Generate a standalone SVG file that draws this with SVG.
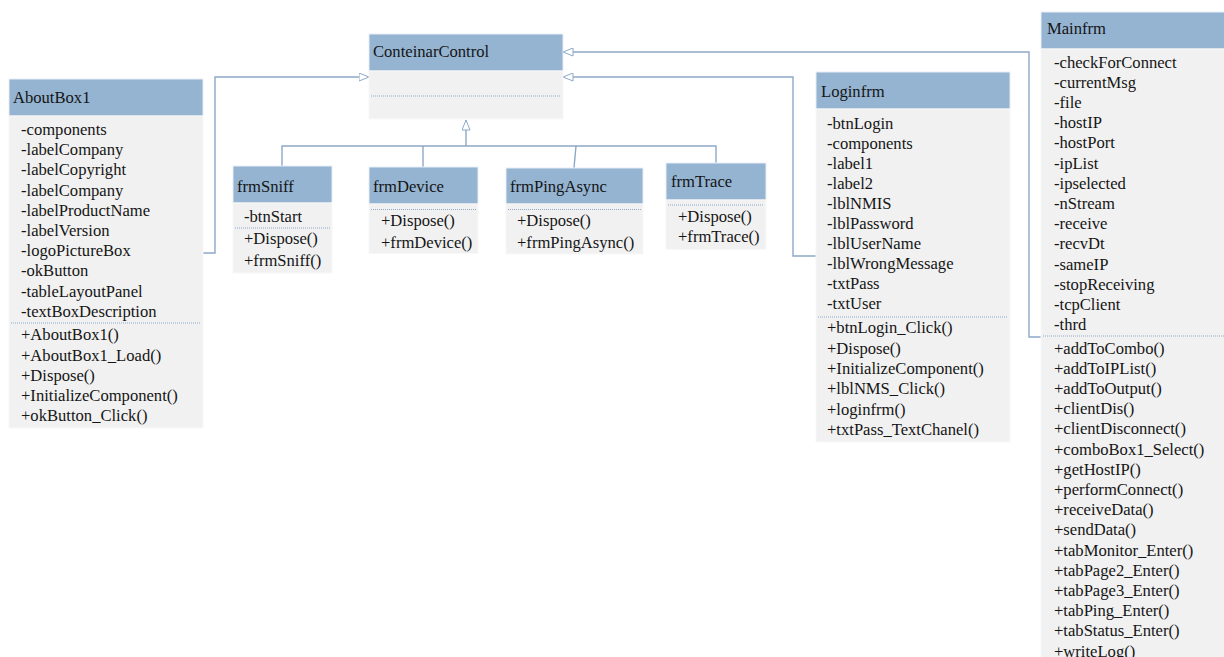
<svg xmlns="http://www.w3.org/2000/svg" width="1224" height="657" viewBox="0 0 1224 657">
<style>
.hd{fill:#94B4D2;stroke:#E8EEF5;stroke-width:1}
.bd{fill:#F1F1F1;stroke:#F8F8F8;stroke-width:1}
.t{font-family:"Liberation Serif","Times New Roman",serif;font-size:16.6px;fill:#151515}
.sep{stroke:#8FA9C8;stroke-width:1;stroke-dasharray:1 1}
.c{fill:none;stroke:#8DA8C7;stroke-width:1.4}
</style>
<defs>
<marker id="tri" viewBox="0 0 11 9" refX="10.5" refY="4.5" markerWidth="11" markerHeight="9" orient="auto" markerUnits="userSpaceOnUse">
<path d="M0.5,0.5 L10.5,4.5 L0.5,8.5 Z" fill="#FFFFFF" stroke="#8DA8C7" stroke-width="1"/>
</marker>
</defs>
<rect width="1224" height="657" fill="#FFFFFF"/>
<g id="connectors">
<path class="c" d="M203,253 H215 V77 H369" marker-end="url(#tri)"/>
<path class="c" d="M816,256 H793 V77 H563" marker-end="url(#tri)"/>
<path class="c" d="M1041,337 H1029 V52 H563" marker-end="url(#tri)"/>
<path class="c" d="M282,166 V146 H716 V163"/>
<path class="c" d="M423,167 V146"/>
<path class="c" d="M574,168 L576,146"/>
<path class="c" d="M466,146 V120" marker-end="url(#tri)"/>
</g>
<g id="ConteinarControl">
<rect class="hd" x="369" y="34" width="194" height="37"/>
<rect class="bd" x="369" y="71" width="194" height="48"/>
<text class="t" x="373" y="57">ConteinarControl</text>
<line class="sep" x1="371" y1="96" x2="561" y2="96"/>
</g>
<g id="AboutBox1">
<rect class="hd" x="9" y="79" width="194" height="37"/>
<rect class="bd" x="9" y="116" width="194" height="312"/>
<text class="t" x="13" y="103">AboutBox1</text>
<text class="t" x="21" y="135">-components</text>
<text class="t" x="21" y="155.2">-labelCompany</text>
<text class="t" x="21" y="175.4">-labelCopyright</text>
<text class="t" x="21" y="195.6">-labelCompany</text>
<text class="t" x="21" y="215.8">-labelProductName</text>
<text class="t" x="21" y="236">-labelVersion</text>
<text class="t" x="21" y="256.2">-logoPictureBox</text>
<text class="t" x="21" y="276.4">-okButton</text>
<text class="t" x="21" y="296.6">-tableLayoutPanel</text>
<text class="t" x="21" y="316.8">-textBoxDescription</text>
<line class="sep" x1="11" y1="323" x2="201" y2="323"/>
<text class="t" x="21" y="340.4">+AboutBox1()</text>
<text class="t" x="21" y="360.6">+AboutBox1_Load()</text>
<text class="t" x="21" y="380.8">+Dispose()</text>
<text class="t" x="21" y="401">+InitializeComponent()</text>
<text class="t" x="21" y="421.2">+okButton_Click()</text>
</g>
<g id="frmSniff">
<rect class="hd" x="233" y="166" width="99" height="37"/>
<rect class="bd" x="233" y="203" width="99" height="70"/>
<text class="t" x="237" y="191.7">frmSniff</text>
<text class="t" x="244" y="221.5">-btnStart</text>
<line class="sep" x1="235" y1="228" x2="330" y2="228"/>
<text class="t" x="244" y="244">+Dispose()</text>
<text class="t" x="244" y="265.5">+frmSniff()</text>
</g>
<g id="frmDevice">
<rect class="hd" x="369" y="167" width="109" height="37"/>
<rect class="bd" x="369" y="204" width="109" height="49.5"/>
<text class="t" x="373" y="192">frmDevice</text>
<line class="sep" x1="371" y1="209.5" x2="476" y2="209.5"/>
<text class="t" x="381" y="226">+Dispose()</text>
<text class="t" x="381" y="247.5">+frmDevice()</text>
</g>
<g id="frmPingAsync">
<rect class="hd" x="506" y="168" width="137" height="36"/>
<rect class="bd" x="506" y="204" width="137" height="50"/>
<text class="t" x="510" y="192">frmPingAsync</text>
<line class="sep" x1="508" y1="209.5" x2="641" y2="209.5"/>
<text class="t" x="517" y="226">+Dispose()</text>
<text class="t" x="517" y="247.5">+frmPingAsync()</text>
</g>
<g id="frmTrace">
<rect class="hd" x="666" y="163" width="100" height="37"/>
<rect class="bd" x="666" y="200" width="100" height="49.5"/>
<text class="t" x="671" y="187">frmTrace</text>
<line class="sep" x1="668" y1="205" x2="764" y2="205"/>
<text class="t" x="678" y="221.5">+Dispose()</text>
<text class="t" x="678" y="241.8">+frmTrace()</text>
</g>
<g id="Loginfrm">
<rect class="hd" x="816" y="72" width="194" height="37"/>
<rect class="bd" x="816" y="109" width="194" height="333"/>
<text class="t" x="821" y="97">Loginfrm</text>
<text class="t" x="827" y="128.5">-btnLogin</text>
<text class="t" x="827" y="148.6">-components</text>
<text class="t" x="827" y="168.7">-label1</text>
<text class="t" x="827" y="188.8">-label2</text>
<text class="t" x="827" y="208.9">-lblNMIS</text>
<text class="t" x="827" y="229">-lblPassword</text>
<text class="t" x="827" y="249.1">-lblUserName</text>
<text class="t" x="827" y="269.2">-lblWrongMessage</text>
<text class="t" x="827" y="289.3">-txtPass</text>
<text class="t" x="827" y="309.4">-txtUser</text>
<line class="sep" x1="818" y1="317" x2="1008" y2="317"/>
<text class="t" x="827" y="333.3">+btnLogin_Click()</text>
<text class="t" x="827" y="353.6">+Dispose()</text>
<text class="t" x="827" y="373.9">+InitializeComponent()</text>
<text class="t" x="827" y="394.2">+lblNMS_Click()</text>
<text class="t" x="827" y="414.5">+loginfrm()</text>
<text class="t" x="827" y="434.8">+txtPass_TextChanel()</text>
</g>
<g id="Mainfrm">
<rect class="hd" x="1041" y="12" width="184" height="37"/>
<rect class="bd" x="1041" y="49" width="184" height="610"/>
<text class="t" x="1047" y="33.5">Mainfrm</text>
<text class="t" x="1054" y="67.5">-checkForConnect</text>
<text class="t" x="1054" y="87.7">-currentMsg</text>
<text class="t" x="1054" y="107.9">-file</text>
<text class="t" x="1054" y="128.1">-hostIP</text>
<text class="t" x="1054" y="148.3">-hostPort</text>
<text class="t" x="1054" y="168.5">-ipList</text>
<text class="t" x="1054" y="188.7">-ipselected</text>
<text class="t" x="1054" y="208.9">-nStream</text>
<text class="t" x="1054" y="229.1">-receive</text>
<text class="t" x="1054" y="249.3">-recvDt</text>
<text class="t" x="1054" y="269.5">-sameIP</text>
<text class="t" x="1054" y="289.7">-stopReceiving</text>
<text class="t" x="1054" y="309.9">-tcpClient</text>
<text class="t" x="1054" y="330.1">-thrd</text>
<line class="sep" x1="1043" y1="336" x2="1224" y2="336"/>
<text class="t" x="1054" y="353.5">+addToCombo()</text>
<text class="t" x="1054" y="373.7">+addToIPList()</text>
<text class="t" x="1054" y="393.9">+addToOutput()</text>
<text class="t" x="1054" y="414.1">+clientDis()</text>
<text class="t" x="1054" y="434.3">+clientDisconnect()</text>
<text class="t" x="1054" y="454.5">+comboBox1_Select()</text>
<text class="t" x="1054" y="474.7">+getHostIP()</text>
<text class="t" x="1054" y="494.9">+performConnect()</text>
<text class="t" x="1054" y="515.1">+receiveData()</text>
<text class="t" x="1054" y="535.3">+sendData()</text>
<text class="t" x="1054" y="555.5">+tabMonitor_Enter()</text>
<text class="t" x="1054" y="575.7">+tabPage2_Enter()</text>
<text class="t" x="1054" y="595.9">+tabPage3_Enter()</text>
<text class="t" x="1054" y="616.1">+tabPing_Enter()</text>
<text class="t" x="1054" y="636.3">+tabStatus_Enter()</text>
<text class="t" x="1054" y="656.5">+writeLog()</text>
</g>
</svg>
